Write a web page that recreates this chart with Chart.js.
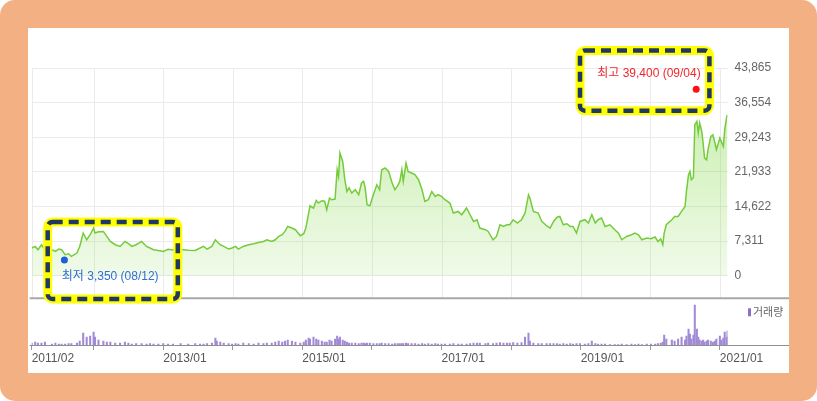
<!DOCTYPE html>
<html lang="ko">
<head>
<meta charset="UTF-8">
<title>주가 차트</title>
<script src="https://cdn.jsdelivr.net/npm/chart.js@4.4.1/dist/chart.umd.min.js"></script>
<style>
    html, body { margin: 0; padding: 0; background: #fff; }
    .frame { position: absolute; left: 0; top: 0; width: 817px; height: 401px; background: #f3b183; border-radius: 15px; }
    .panel { position: absolute; left: 28px; top: 28px; width: 761px; height: 345px; background: #fff; }
    #chart { position: absolute; left: 0; top: 0; }
</style>
</head>
<body>
<div class="frame"></div>
<div class="panel"></div>
<canvas id="chart" width="817" height="401"></canvas>
<script>
// dates as decimal years, prices in won, volumes in thousand shares
const dates = [
    2011.11, 2011.16, 2011.20, 2011.25, 2011.30, 2011.40, 2011.45, 2011.50, 2011.54, 2011.59,
    2011.64, 2011.68, 2011.76, 2011.80, 2011.85, 2011.90, 2011.95, 2012.00, 2012.02, 2012.07,
    2012.14, 2012.19, 2012.24, 2012.31, 2012.38, 2012.45, 2012.50, 2012.55, 2012.61, 2012.69,
    2012.76, 2012.81, 2012.86, 2012.93, 2013.00, 2013.07, 2013.14, 2013.25, 2013.36, 2013.46,
    2013.53, 2013.58, 2013.63, 2013.70, 2013.75, 2013.77, 2013.82, 2013.87, 2013.94, 2013.99,
    2014.04, 2014.08, 2014.15, 2014.23, 2014.30, 2014.37, 2014.44, 2014.49, 2014.56, 2014.61,
    2014.66, 2014.71, 2014.75, 2014.79, 2014.85, 2014.90, 2014.97, 2015.02, 2015.05, 2015.09,
    2015.11, 2015.16, 2015.20, 2015.23, 2015.28, 2015.32, 2015.35, 2015.39, 2015.42, 2015.47,
    2015.50, 2015.52, 2015.54, 2015.58, 2015.61, 2015.64, 2015.67, 2015.71, 2015.76, 2015.81,
    2015.85, 2015.88, 2015.90, 2015.93, 2015.97, 2016.02, 2016.07, 2016.11, 2016.14, 2016.19,
    2016.24, 2016.29, 2016.33, 2016.37, 2016.40, 2016.43, 2016.45, 2016.49, 2016.52, 2016.57,
    2016.62, 2016.67, 2016.72, 2016.76, 2016.81, 2016.86, 2016.91, 2016.95, 2017.00, 2017.05,
    2017.12, 2017.17, 2017.24, 2017.29, 2017.36, 2017.41, 2017.46, 2017.51, 2017.55, 2017.63,
    2017.67, 2017.74, 2017.79, 2017.84, 2017.89, 2017.94, 2017.98, 2018.03, 2018.09, 2018.15,
    2018.20, 2018.25, 2018.27, 2018.32, 2018.39, 2018.44, 2018.51, 2018.56, 2018.61, 2018.66,
    2018.70, 2018.75, 2018.80, 2018.85, 2018.89, 2018.94, 2018.99, 2019.06, 2019.11, 2019.16,
    2019.21, 2019.25, 2019.30, 2019.35, 2019.42, 2019.49, 2019.54, 2019.59, 2019.66, 2019.73,
    2019.78, 2019.83, 2019.88, 2019.95, 2020.01, 2020.07, 2020.11, 2020.15, 2020.18, 2020.20,
    2020.23, 2020.31, 2020.35, 2020.40, 2020.45, 2020.50, 2020.52, 2020.55, 2020.57, 2020.59,
    2020.62, 2020.64, 2020.67, 2020.69, 2020.71, 2020.74, 2020.76, 2020.78, 2020.81, 2020.83,
    2020.87, 2020.90, 2020.93, 2020.95, 2021.00, 2021.02, 2021.05, 2021.07, 2021.10, 2021.11
];

const prices = [
    5850, 6190, 5490, 6550, 5490, 5490, 5130, 5640, 5490, 4440,
    4650, 4080, 4790, 6190, 9020, 7600, 8660, 10070, 9020, 9290,
    9360, 8300, 7240, 6550, 6190, 7240, 6760, 6190, 6550, 7240,
    6190, 5850, 5490, 5350, 5130, 5600, 5420, 5530, 5400, 5340,
    5850, 6190, 5640, 6190, 7600, 7240, 6550, 6190, 5640, 5850,
    6190, 5640, 6190, 6550, 6760, 7030, 7240, 7600, 7240, 7600,
    8300, 8660, 9360, 10410, 10070, 9720, 8450, 8870, 10070, 13240,
    14780, 14300, 15900, 15350, 15840, 15730, 13940, 16410, 16050, 16200,
    22390, 20970, 25910, 24140, 20280, 17800, 18590, 17470, 18160, 17110,
    19580, 19920, 18800, 15000, 14780, 17110, 19220, 18160, 22390, 22750,
    22030, 19580, 18160, 19010, 19920, 22390, 19920, 23800, 22030, 21690,
    21330, 20280, 18160, 15690, 16050, 17800, 16750, 17110, 16750, 16050,
    15350, 13240, 13580, 12880, 14300, 12880, 11470, 11830, 10070, 9720,
    9360, 7600, 8300, 10770, 10410, 10770, 10770, 11830, 11130, 11830,
    13240, 17110, 16410, 13580, 13240, 11470, 10560, 10070, 11470, 12360,
    12520, 10770, 10980, 10410, 10410, 9020, 11470, 11830, 11130, 12880,
    11130, 11830, 12190, 10410, 10770, 9720, 9020, 7600, 8300, 8660,
    9020, 8660, 7600, 7960, 7810, 8170, 7240, 7810, 6550, 9020,
    10770, 11830, 12520, 12520, 13580, 14640, 17800, 21330, 22030, 20280,
    20700, 31890, 32590, 30140, 32250, 30480, 28030, 24860, 24500, 26610,
    29420, 29780, 28030, 26610, 29080, 28360, 27310, 30840, 33640, 34000
];

const volumes = [
    200, 300, 200, 200, 300, 100, 200, 100, 100, 100,
    150, 150, 200, 400, 1200, 800, 900, 1300, 800, 500,
    400, 300, 300, 200, 200, 300, 200, 100, 150, 150,
    100, 150, 100, 100, 150, 100, 100, 150, 100, 150,
    100, 100, 150, 200, 700, 400, 300, 200, 150, 100,
    150, 100, 200, 150, 100, 200, 150, 200, 200, 300,
    400, 300, 400, 500, 400, 300, 200, 300, 500, 700,
    600, 800, 600, 500, 400, 300, 300, 500, 400, 600,
    900, 600, 800, 500, 400, 300, 200, 200, 200, 150,
    200, 200, 150, 200, 200, 150, 150, 150, 200, 150,
    150, 100, 150, 150, 150, 150, 150, 200, 150, 150,
    150, 100, 150, 100, 150, 100, 150, 100, 100, 100,
    100, 150, 100, 100, 100, 150, 200, 200, 200, 150,
    200, 150, 200, 250, 200, 200, 200, 250, 200, 250,
    800, 1200, 400, 200, 150, 150, 150, 150, 150, 150,
    100, 150, 100, 150, 100, 150, 150, 100, 150, 400,
    150, 100, 100, 100, 50, 50, 50, 100, 50, 100,
    50, 100, 50, 100, 100, 100, 150, 200, 300, 1000,
    600, 500, 400, 600, 800, 500, 900, 1600, 1100, 600,
    1000, 4000, 1600, 800, 500, 400, 500, 300, 400, 500,
    400, 300, 400, 600, 900, 500, 700, 1300, 800, 1400
];

const xTicks = [2011.11, 2012, 2013, 2014, 2015, 2016, 2017, 2018, 2019, 2020, 2021];
const xLabels = ['2011/02', '', '2013/01', '', '2015/01', '', '2017/01', '', '2019/01', '', '2021/01'];
const yTicks = [0, 7311, 14622, 21933, 29243, 36554, 43865];

const highPoint = [2020.66, 39400];
const highText = '최고 39,400 (09/04)';
const lowPoint = [2011.58, 3350];
const lowText = '최저 3,350 (08/12)';
const volumeLegend = '거래량';

// layout bits (data units, mapped through the scales)
const PANE_SPLIT = -4760;          // price level of the line between price and volume panes
const highlightBoxes = [
    [2018.99, 2020.85, 47580, 34850],
    [2011.34, 2013.21, 11340, -4920]
];

const FONT = '"Liberation Sans", "Noto Sans CJK KR", sans-serif';

function priceFill(context) {
    const chart = context.chart;
    const area = chart.chartArea;
    if (!area) return 'rgba(130,215,70,0.25)';
    const zero = chart.scales.y.getPixelForValue(0);
    const g = chart.ctx.createLinearGradient(0, area.top, 0, zero);
    g.addColorStop(0, 'rgba(130,215,70,0.48)');
    g.addColorStop(1, 'rgba(130,215,70,0.12)');
    return g;
}

const decor = {
    id: 'decor',
    beforeDatasetsDraw(chart) {
        const { ctx, chartArea: a, scales: { x, y } } = chart;
        const split = y.getPixelForValue(PANE_SPLIT);
        ctx.save();
        ctx.strokeStyle = '#ebebeb';
        ctx.lineWidth = 1;
        x.ticks.forEach(t => {
            const px = Math.round(x.getPixelForValue(t.value)) + 0.5;
            ctx.beginPath();
            ctx.moveTo(px, a.top);
            ctx.lineTo(px, split);
            ctx.stroke();
        });
        ctx.restore();
    },
    afterDraw(chart) {
        const { ctx, chartArea: a, scales: { x, y } } = chart;
        const left = a.left - 2;
        const right = chart.width - 28;
        const split = y.getPixelForValue(PANE_SPLIT);

        ctx.save();
        // pane separator and volume baseline
        ctx.strokeStyle = '#a8a8a8';
        ctx.lineWidth = 2;
        ctx.beginPath(); ctx.moveTo(left, split); ctx.lineTo(right, split); ctx.stroke();
        ctx.strokeStyle = '#8f8f8f';
        ctx.lineWidth = 1;
        ctx.beginPath(); ctx.moveTo(left, a.bottom + 0.5); ctx.lineTo(right, a.bottom + 0.5); ctx.stroke();

        // volume legend
        ctx.fillStyle = '#8c6fc6';
        ctx.fillRect(a.right + 20.5, split + 10, 3, 8);
        ctx.font = '11px ' + FONT;
        ctx.fillStyle = '#666';
        ctx.textAlign = 'left';
        ctx.textBaseline = 'middle';
        ctx.fillText(volumeLegend, a.right + 25.5, split + 14.5);

        // high / low labels
        ctx.font = '12px ' + FONT;
        const hx = x.getPixelForValue(highPoint[0]), hy = y.getPixelForValue(highPoint[1]);
        ctx.fillStyle = '#f0282d';
        ctx.textAlign = 'right';
        ctx.fillText(highText, hx + 4.5, hy - 15);
        const lx = x.getPixelForValue(lowPoint[0]), ly = y.getPixelForValue(lowPoint[1]);
        ctx.fillStyle = '#2f6fd4';
        ctx.textAlign = 'left';
        ctx.fillText(lowText, lx - 2.6, ly + 16.5);

        // dashed highlight boxes
        highlightBoxes.forEach(([d0, d1, v0, v1]) => {
            const bx = x.getPixelForValue(d0), ex = x.getPixelForValue(d1);
            const by = y.getPixelForValue(v0), ey = y.getPixelForValue(v1);
            ctx.beginPath();
            ctx.roundRect(bx, by, ex - bx, ey - by, 5);
            ctx.setLineDash([]);
            ctx.strokeStyle = '#ffff00';
            ctx.lineWidth = 9;
            ctx.stroke();
            ctx.setLineDash([10, 6]);
            ctx.strokeStyle = '#1f3864';
            ctx.lineWidth = 4.5;
            ctx.stroke();
        });
        ctx.restore();
    }
};

new Chart(document.getElementById('chart'), {
    type: 'line',
    data: {
        datasets: [
            {
                data: [{ x: highPoint[0], y: highPoint[1] }],
                yAxisID: 'y', showLine: false,
                pointRadius: 3.5, pointBorderWidth: 0, pointBackgroundColor: '#ff1010',
                order: 0
            },
            {
                data: [{ x: lowPoint[0], y: lowPoint[1] }],
                yAxisID: 'y', showLine: false,
                pointRadius: 3.5, pointBorderWidth: 0, pointBackgroundColor: '#1f5fd6',
                order: 0
            },
            {
                label: '주가',
                data: dates.map((d, i) => ({ x: d, y: prices[i] })),
                yAxisID: 'y',
                borderColor: '#74cc3c',
                borderWidth: 1.5,
                pointRadius: 0,
                tension: 0,
                fill: 'origin',
                backgroundColor: priceFill,
                order: 1
            },
            {
                type: 'bar',
                label: volumeLegend,
                data: dates.map((d, i) => ({ x: d, y: volumes[i] })),
                yAxisID: 'y2',
                backgroundColor: '#a28bd6',
                barThickness: 1.4,
                order: 2
            }
        ]
    },
    options: {
        responsive: false,
        animation: false,
        devicePixelRatio: 1,
        layout: { padding: { left: 31.7, top: 68, right: 28, bottom: 28 } },
        plugins: { legend: { display: false }, tooltip: { enabled: false } },
        scales: {
            x: {
                type: 'linear',
                min: 2011.11,
                max: 2021.11,
                offset: false,
                afterBuildTicks: s => { s.ticks = xTicks.map(v => ({ value: v })); },
                afterFit: s => { s.height = 28; },
                ticks: {
                    autoSkip: false, maxRotation: 0, align: 'start', padding: 1,
                    color: '#555', font: { family: FONT, size: 12 },
                    callback: (v, i) => xLabels[i]
                },
                grid: { drawOnChartArea: false, offset: false, tickLength: 5, color: '#9a9a9a' },
                border: { display: false }
            },
            y: {
                position: 'right',
                min: -14622,
                max: 43865,
                afterBuildTicks: s => { s.ticks = yTicks.map(v => ({ value: v })); },
                afterFit: s => { s.width = 61.5; },
                ticks: {
                    padding: 7, color: '#666', font: { family: FONT, size: 12 },
                    callback: v => Number(v).toLocaleString('en-US')
                },
                grid: { color: '#ebebeb', drawTicks: false },
                border: { display: false }
            },
            y2: { display: false, min: 0, max: 27700 }
        }
    },
    plugins: [decor]
});
</script>
</body>
</html>
